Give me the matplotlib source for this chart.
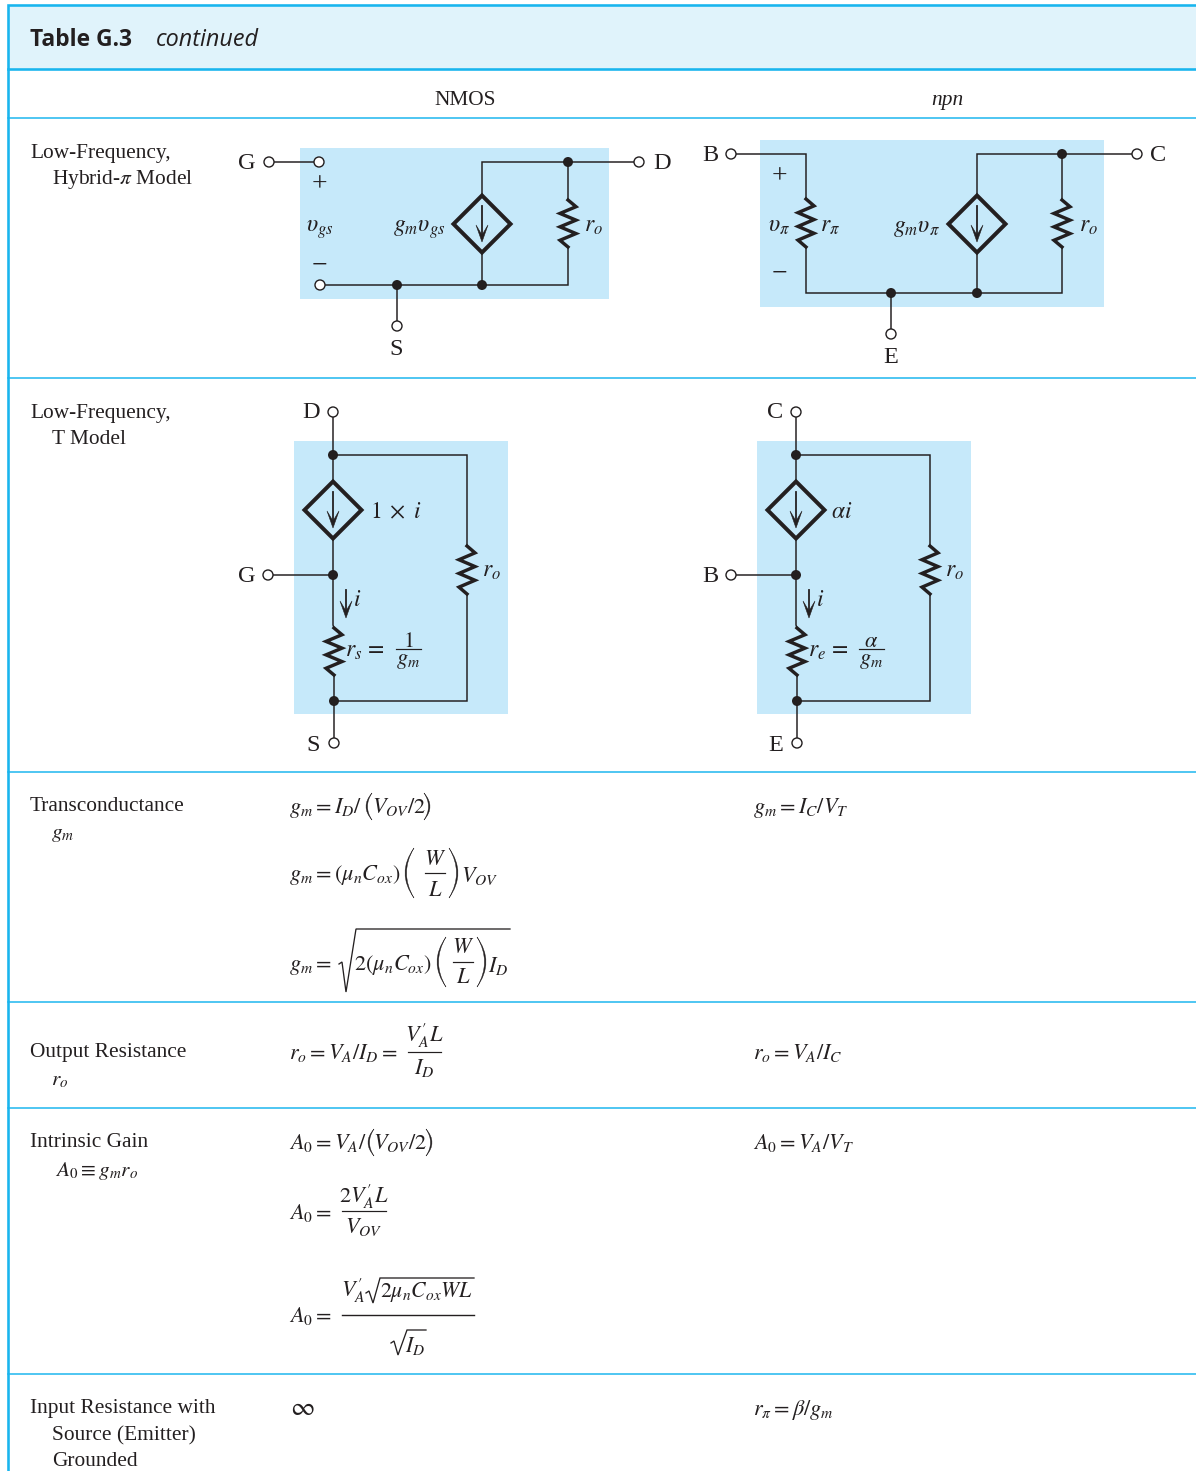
"""Table G.3 (continued): small-signal models and formulas, NMOS vs npn."""
import matplotlib
matplotlib.use("Agg")
import matplotlib.pyplot as plt
from matplotlib.patches import Circle, PathPatch, Polygon, Rectangle
from matplotlib.path import Path

plt.rcParams["font.family"] = ["Liberation Serif", "DejaVu Serif"]
plt.rcParams["mathtext.fontset"] = "stix"

INK = "#231f20"
CYAN = "#19b5ee"
PANEL = "#c6e9fa"
HEADER = "#e0f3fb"
WIDTH, HEIGHT = 1196, 1471
PX = 0.72  # one pixel in points at dpi 100

RULE_YS = [118, 378, 772, 1002, 1108, 1374]
COLUMN_HEADS = [(465, "NMOS", "normal"), (947, "npn", "italic")]

# x, baseline, text
ROW_LABELS = [
    (30, 158, "Low-Frequency,"),
    (52, 184, r"Hybrid-$\pi$ Model"),
    (30, 418, "Low-Frequency,"),
    (52, 444, "T Model"),
    (30, 811, "Transconductance"),
    (51, 838, r"$g_m$"),
    (30, 1057, "Output Resistance"),
    (51, 1085, r"$r_o$"),
    (30, 1147, "Intrinsic Gain"),
    (55, 1176, r"$A_0 \equiv g_m r_o$"),
    (30, 1413, "Input Resistance with"),
    (52, 1440, "Source (Emitter)"),
    (52, 1466, "Grounded"),
]

# formula pieces: x, baseline, mathtext
NMOS_FORMULAS = [
    (289, 813, r"$g_m = I_D/$"), (372, 813, r"$V_{OV}/2$"),
    (289, 880, r"$g_m = (\mu_n C_{ox})$"), (461, 882, r"$V_{OV}$"),
    (289, 970, r"$g_m =$"), (354, 970, r"$2(\mu_n C_{ox})$"), (488, 972, r"$I_D$"),
    (289, 1059, r"$r_o = V_A/I_D =$"),
    (289, 1149, r"$A_0 = V_A/$"), (373, 1149, r"$V_{OV}/2$"),
    (289, 1219, r"$A_0 =$"),
    (289, 1322, r"$A_0 =$"),
    (341, 1297, r"$V_A^{\prime}$"),
]
NPN_FORMULAS = [
    (753, 813, r"$g_m = I_C/V_T$"),
    (753, 1059, r"$r_o = V_A/I_C$"),
    (753, 1149, r"$A_0 = V_A/V_T$"),
    (753, 1415, r"$r_\pi = \beta/g_m$"),
]
INFINITY = (290, 1415, r"$\infty$")
ROOT_BODIES = [(380, 1297, r"$2\mu_n C_{ox}WL$"), (405, 1352, r"$I_D$")]

# fractions: bar from x0 to x1 at y, numerator (baseline), denominator (baseline)
FRACTIONS = [
    (425, 445, 873, "$W$", 865, "$L$", 896),
    (453, 473, 962, "$W$", 953, "$L$", 983),
    (408, 441, 1052, r"$V_A^{\prime}L$", 1042, "$I_D$", 1074),
    (342, 386, 1211, r"$2V_A^{\prime}L$", 1203, "$V_{OV}$", 1233),
    (396, 421, 649, "$1$", 647, "$g_m$", 664),
    (859, 884, 649, r"$\alpha$", 647, "$g_m$", 664),
]
# tall brackets: x, top, bottom, side
BIG_PARENS = [
    (366, 793, 820, "l"), (424, 793, 820, "r"),
    (405, 848, 898, "l"), (449, 848, 898, "r"),
    (437, 937, 987, "l"), (477, 937, 987, "r"),
    (368, 1129, 1156, "l"), (426, 1129, 1156, "r"),
]
# radical strokes
ROOT_SIGNS = [
    ((339, 964), (342, 962), (346, 992), (356, 929), (510, 929)),
    ((366, 1293), (369, 1291), (373, 1303), (380, 1278), (474, 1278)),
    ((391, 1343), (394, 1341), (398, 1355), (407, 1330), (426, 1330)),
]
PLAIN_BARS = [(342, 474, 1315)]

# circuit panels: left, top, right, bottom
PANELS = [(300, 148, 609, 299), (760, 140, 1104, 307),
          (294, 441, 508, 714), (757, 441, 971, 714)]

# polylines as ((x, y), ...)
WIRES = [
    # NMOS hybrid-pi
    ((269, 162), (319, 162)),
    ((482, 194), (482, 162), (639, 162)),
    ((568, 162), (568, 285), (320, 285)),
    ((482, 254), (482, 285)),
    ((397, 285), (397, 326)),
    # npn hybrid-pi
    ((731, 154), (806, 154), (806, 293), (1062, 293), (1062, 154)),
    ((977, 194), (977, 154), (1137, 154)),
    ((977, 254), (977, 293)),
    ((891, 293), (891, 334)),
    # NMOS T
    ((333, 412), (333, 625), (334, 628), (334, 743)),
    ((333, 455), (467, 455), (467, 701), (334, 701)),
    ((268, 575), (333, 575)),
    # npn T
    ((796, 412), (796, 625), (797, 628), (797, 743)),
    ((796, 455), (930, 455), (930, 701), (797, 701)),
    ((731, 575), (796, 575)),
]
TERMINALS = [(269, 162), (319, 162), (320, 285), (639, 162), (397, 326),
             (731, 154), (1137, 154), (891, 334),
             (333, 412), (268, 575), (334, 743),
             (796, 412), (731, 575), (797, 743)]
NODES = [(568, 162), (397, 285), (482, 285),
         (1062, 154), (891, 293), (977, 293),
         (333, 455), (333, 575), (334, 701),
         (796, 455), (796, 575), (797, 701)]
# x, top, bottom
RESISTORS = [(568, 200, 247), (806, 199, 247), (1062, 200, 247),
             (467, 546, 594), (334, 628, 675), (930, 546, 594), (797, 628, 675)]
DIAMONDS = [(482, 224), (977, 224), (333, 510), (796, 510)]
CURRENT_ARROWS = [(346, 590, 618), (809, 590, 618)]

# x, y (centre), letter
TERMINAL_LABELS = [
    (247, 163, "G"), (662, 163, "D"), (396, 349, "S"),
    (710, 155, "B"), (1158, 155, "C"), (891, 357, "E"),
    (311, 412, "D"), (247, 576, "G"), (313, 745, "S"),
    (775, 412, "C"), (710, 576, "B"), (776, 745, "E"),
]
SIGN_LABELS = [(319, 185, "+"), (319, 266, "\u2212"), (779, 177, "+"), (779, 274, "\u2212")]
# x, baseline, text, ha
CIRCUIT_LABELS = [
    (320, 232, r"$\upsilon_{gs}$", "center"),
    (419, 232, r"$g_m\upsilon_{gs}$", "center"),
    (593, 232, r"$r_o$", "center"),
    (779, 232, r"$\upsilon_\pi$", "center"),
    (830, 232, r"$r_\pi$", "center"),
    (916, 232, r"$g_m\upsilon_\pi$", "center"),
    (1088, 232, r"$r_o$", "center"),
    (370, 518, r"$1\;\times\;i$", "left"),
    (491, 577, r"$r_o$", "center"),
    (357, 606, r"$i$", "center"),
    (345, 657, r"$r_s\,=$", "left"),
    (831, 518, r"$\alpha i$", "left"),
    (954, 577, r"$r_o$", "center"),
    (820, 606, r"$i$", "center"),
    (808, 657, r"$r_e\,=$", "left"),
]


def draw_resistor(ax, x, top, bottom):
    # three full swings, ends back on the wire
    offs = [0, 8, -8, 8, -8, 8, -8, 0]
    step = (bottom - top) / (len(offs) - 1)
    xs = [x + o for o in offs]
    ys = [top + i * step for i in range(len(offs))]
    ax.plot(xs, ys, color=INK, lw=3.4 * PX, solid_joinstyle="miter", zorder=4)


def draw_arrow(ax, x, y0, y1):
    ax.plot([x, x], [y0, y1 - 4], color=INK, lw=1.8 * PX, zorder=5)
    ax.add_patch(Polygon([(x, y1), (x - 6, y1 - 17), (x, y1 - 7), (x + 6, y1 - 17)],
                         closed=True, fc=INK, ec=INK, lw=0.4, zorder=5))


def draw_diamond(ax, cx, cy, half=28.5):
    ax.add_patch(Polygon([(cx, cy - half), (cx + half, cy), (cx, cy + half), (cx - half, cy)],
                         closed=True, fc="none", ec=INK, lw=4 * PX,
                         joinstyle="miter", zorder=4))
    draw_arrow(ax, cx, cy - 18, cy + 18)


def draw_paren(ax, x, top, bottom, side):
    # filled crescent, thin at the tips like a typeset bracket
    w = 6 if bottom - top < 40 else 9
    mid = (top + bottom) / 2
    if side == "l":
        tip, outer, inner = x + w, x - w, x - w + 3
    else:
        tip, outer, inner = x, x + 2 * w, x + 2 * w - 3
    verts = [(tip, top), (outer, mid), (tip, bottom), (inner, mid), (tip, top), (tip, top)]
    codes = [Path.MOVETO, Path.CURVE3, Path.CURVE3, Path.CURVE3, Path.CURVE3, Path.CLOSEPOLY]
    ax.add_patch(PathPatch(Path(verts, codes), fc=INK, ec=INK, lw=0.3, zorder=4))


def main():
    fig = plt.figure(figsize=(WIDTH / 100, HEIGHT / 100), dpi=100)
    ax = fig.add_axes([0, 0, 1, 1])
    ax.set_xlim(0, WIDTH)
    ax.set_ylim(HEIGHT, 0)
    ax.axis("off")

    # table frame
    ax.add_patch(Rectangle((8, 5), WIDTH - 8, 64, fc=HEADER, ec="none"))
    ax.plot([WIDTH, 8, 8], [5, 5, HEIGHT], color=CYAN, lw=2.6 * PX, solid_joinstyle="miter")
    ax.plot([8, WIDTH], [69, 69], color=CYAN, lw=2.6 * PX)
    for y in RULE_YS:
        ax.plot([8, WIDTH], [y, y], color=CYAN, lw=1.5 * PX)

    ax.text(30, 46, "Table G.3", family="Open Sans", weight="bold", fontsize=16.4, color=INK)
    ax.text(156, 46, "continued", family="Open Sans", style="italic", fontsize=16.8, color=INK)
    for x, name, style in COLUMN_HEADS:
        ax.text(x, 105, name, ha="center", style=style, fontsize=15.4, color=INK)

    for x, y, label in ROW_LABELS:
        ax.text(x, y, label, fontsize=15.4, color=INK)

    # circuits
    for left, top, right, bottom in PANELS:
        ax.add_patch(Rectangle((left, top), right - left, bottom - top, fc=PANEL, ec="none", zorder=1))
    for pts in WIRES:
        ax.plot([p[0] for p in pts], [p[1] for p in pts], color=INK, lw=1.5 * PX,
                solid_joinstyle="miter", zorder=2)
    for x, top, bottom in RESISTORS:
        # blank the wire behind the zigzag
        ax.add_patch(Rectangle((x - 2, top), 4, bottom - top, fc=PANEL, ec="none", zorder=3))
        draw_resistor(ax, x, top, bottom)
    for cx, cy in DIAMONDS:
        ax.add_patch(Rectangle((cx - 2, cy - 27), 4, 54, fc=PANEL, ec="none", zorder=3))
        draw_diamond(ax, cx, cy)
    for x, y0, y1 in CURRENT_ARROWS:
        draw_arrow(ax, x, y0, y1)
    for x, y in TERMINALS:
        ax.add_patch(Circle((x, y), 5, fc="white", ec=INK, lw=1.4 * PX, zorder=6))
    for x, y in NODES:
        ax.add_patch(Circle((x, y), 5, fc=INK, ec="none", zorder=6))
    for x, y, label in TERMINAL_LABELS:
        ax.text(x, y, label, ha="center", va="center", fontsize=17.5, color=INK, zorder=7)
    for x, y, label in SIGN_LABELS:
        ax.text(x, y, label, ha="center", va="center", fontsize=20, color=INK, zorder=7)
    for x, y, label, ha in CIRCUIT_LABELS:
        ax.text(x, y, label, ha=ha, va="baseline", fontsize=17, color=INK, zorder=7)

    # formulas
    for x, y, formula in NMOS_FORMULAS + NPN_FORMULAS:
        ax.text(x, y, formula, fontsize=16, color=INK, va="baseline", zorder=7)
    for x, y, formula in ROOT_BODIES:
        ax.text(x, y, formula, fontsize=15.7, color=INK, va="baseline", zorder=7)
    ax.text(INFINITY[0], INFINITY[1], INFINITY[2], fontsize=19, color=INK, va="baseline")

    for x0, x1, y, num, num_y, den, den_y in FRACTIONS:
        ax.plot([x0, x1], [y, y], color=INK, lw=1.2 * PX, zorder=4)
        ax.text((x0 + x1) / 2, num_y, num, ha="center", va="baseline", fontsize=16, color=INK, zorder=7)
        ax.text((x0 + x1) / 2, den_y, den, ha="center", va="baseline", fontsize=16, color=INK, zorder=7)
    for x0, x1, y in PLAIN_BARS:
        ax.plot([x0, x1], [y, y], color=INK, lw=1.4 * PX, zorder=4)
    for x, top, bottom, side in BIG_PARENS:
        draw_paren(ax, x, top, bottom, side)
    for pts in ROOT_SIGNS:
        ax.plot([p[0] for p in pts], [p[1] for p in pts], color=INK, lw=1.3 * PX,
                solid_joinstyle="miter", zorder=4)

    fig.savefig("out.png", dpi=100)


if __name__ == "__main__":
    main()
